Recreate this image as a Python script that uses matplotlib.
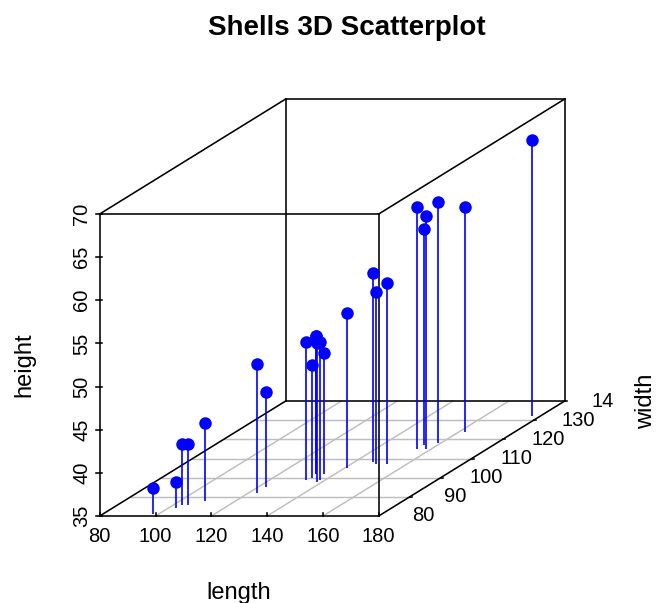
import matplotlib
matplotlib.use('Agg')
import matplotlib.pyplot as plt
import numpy as np

plt.rcParams['font.family'] = ['Liberation Sans', 'DejaVu Sans']

# shells data
length = [98, 103, 103, 105, 109, 123, 123, 133, 133, 133, 134, 136,
          138, 138, 141, 147, 149, 153, 155, 155, 158, 159, 162, 177]
width = [81, 84, 86, 86, 88, 92, 95, 99, 102, 102, 100, 102,
         98, 99, 105, 108, 107, 107, 115, 117, 115, 118, 124, 132]
height = [38, 38, 42, 42, 44, 50, 46, 51, 51, 51, 48, 49,
          51, 51, 53, 57, 55, 56, 63, 60, 62, 63, 61, 67]

x_ticks = [80, 100, 120, 140, 160, 180]
y_ticks = [90, 100, 110, 120, 130, 140]
z_ticks = [35, 40, 45, 50, 55, 60, 65, 70]
# the depth labels sit one step off the ticks in the original
y_labels = ['80', '90', '100', '110', '120', '130']

x0, x1 = 80, 180
y0, y1 = 80, 140
z0, z1 = 35, 70

# oblique projection, depth in x and z units
shift_x = 1.111
shift_z = 0.2221


def proj(x, y, z):
    x = np.asarray(x, dtype=float)
    y = np.asarray(y, dtype=float)
    z = np.asarray(z, dtype=float)
    return x + (y - y0) * shift_x, z + (y - y0) * shift_z


def line3d(ax, a, b, **kw):
    u, v = proj([a[0], b[0]], [a[1], b[1]], [a[2], b[2]])
    ax.plot(u, v, solid_capstyle='projecting', clip_on=False, **kw)


fig = plt.figure(figsize=(6.65, 6.03), dpi=100)
ax = fig.add_axes([99.7 / 665, 1 - 516 / 603, 465 / 665, 417 / 603])
ax.set_xlim(x0, x1 + (y1 - y0) * shift_x)
ax.set_ylim(z0, z1 + (y1 - y0) * shift_z)
ax.axis('off')

# floor grid
for t in x_ticks[1:-1]:
    line3d(ax, (t, y0, z0), (t, y1, z0), color='#bebebe', lw=1.05, zorder=1)
for t in y_ticks[:-1]:
    line3d(ax, (x0, t, z0), (x1, t, z0), color='#bebebe', lw=1.05, zorder=1)

# box
box = dict(color='black', lw=1.15, zorder=2)
for y in (y0, y1):
    line3d(ax, (x0, y, z0), (x1, y, z0), **box)
    line3d(ax, (x0, y, z1), (x1, y, z1), **box)
    line3d(ax, (x0, y, z0), (x0, y, z1), **box)
    line3d(ax, (x1, y, z0), (x1, y, z1), **box)
for x in (x0, x1):
    for z in (z0, z1):
        line3d(ax, (x, y0, z), (x, y1, z), **box)

# ticks and labels
for t in x_ticks:
    u, v = proj(t, y0, z0)
    ax.plot([u, u], [v, v + 0.35], color='black', lw=1.15, clip_on=False, zorder=2)
    ax.annotate(str(t), (u, v), xytext=(0, -20), textcoords='offset pixels',
                ha='center', va='center', fontsize=14.5, annotation_clip=False)
for t in z_ticks:
    u, v = proj(x0, y0, t)
    ax.plot([u - 1.4, u + 0.8], [v, v], color='black', lw=1.15, clip_on=False, zorder=2)
    ax.annotate(str(t), (u, v), xytext=(-18, 0), textcoords='offset pixels',
                ha='center', va='center', rotation=90, fontsize=14.5,
                annotation_clip=False)
for t, lab in zip(y_ticks, y_labels):
    u, v = proj(x1, t, z0)
    ax.plot([u, u + 1.0], [v, v], color='black', lw=1.15, clip_on=False, zorder=2)
    ax.annotate(lab, (u, v), xytext=(14, -19), textcoords='offset pixels',
                ha='center', va='center', fontsize=14.5, annotation_clip=False)
# last depth label is cut off in the original
u, v = proj(x1, y1 + 10, z0)
ax.annotate('14', (u, v), xytext=(7, -20), textcoords='offset pixels',
            ha='center', va='center', fontsize=14.5, annotation_clip=False)

# stems and points
u, v = proj(length, width, height)
u_b, v_b = proj(length, width, [z0] * len(length))
ax.vlines(u, v_b, v, color='#0000ff', lw=1.2, zorder=3)
ax.plot(u, v, 'o', color='#0000ff', ms=9.0, mew=0, clip_on=False, zorder=4)

fig.text(347 / 665, 1 - 28 / 603, 'Shells 3D Scatterplot', ha='center', va='center',
         fontsize=20, fontweight='bold')
fig.text(239 / 665, 1 - 593 / 603, 'length', ha='center', va='center', fontsize=17)
fig.text(24 / 665, 1 - 365 / 603, 'height', ha='center', va='center', rotation=90, fontsize=17)
fig.text(646 / 665, 1 - 401 / 603, 'width', ha='center', va='center', rotation=90, fontsize=17)

fig.savefig('out.png', dpi=100)
